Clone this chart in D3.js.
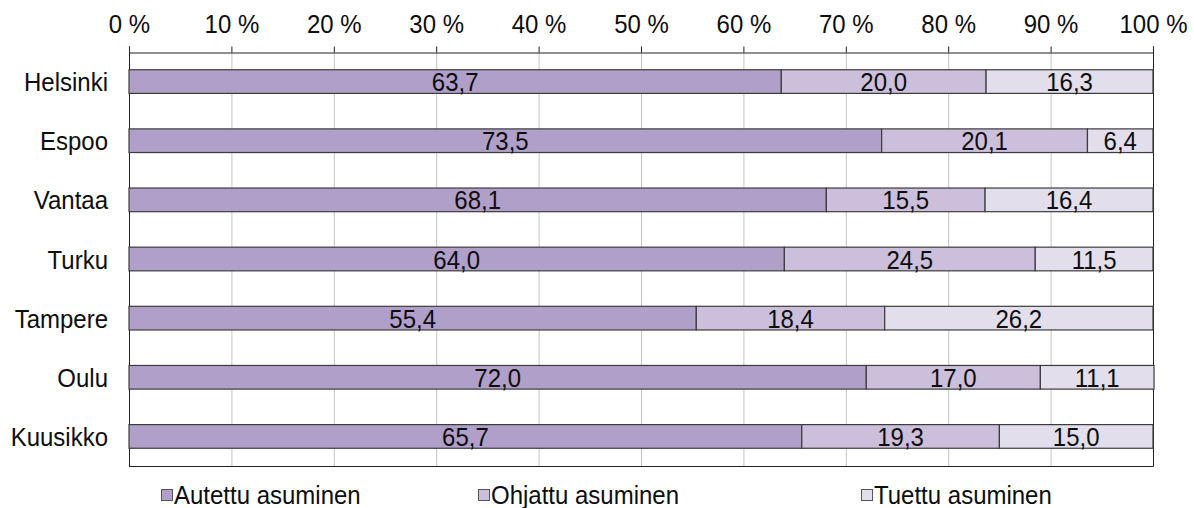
<!DOCTYPE html>
<html>
<head>
<meta charset="utf-8">
<script src="https://cdn.jsdelivr.net/npm/d3@7"></script>
<style>
	body { margin: 0; background: #fff; }
	text { font-family: "Liberation Sans", Arial, sans-serif; fill: #0d0d0d; }
	.grid line { stroke: #c4c4c4; stroke-width: 1; }
	.segment { stroke: #3c3c3c; stroke-width: 1.2; }
</style>
</head>
<body>
<svg id="chart" width="1194" height="508"></svg>
<script>
var cities = ["Helsinki", "Espoo", "Vantaa", "Turku", "Tampere", "Oulu", "Kuusikko"];
var seriesNames = ["Autettu asuminen", "Ohjattu asuminen", "Tuettu asuminen"];
var autettu = [63.7, 73.5, 68.1, 64.0, 55.4, 72.0, 65.7];
var ohjattu = [20.0, 20.1, 15.5, 24.5, 18.4, 17.0, 19.3];
var tuettu = [16.3, 6.4, 16.4, 11.5, 26.2, 11.1, 15.0];
var tickValues = [0, 10, 20, 30, 40, 50, 60, 70, 80, 90, 100];

(function () {
	var svg, x, y, color, rows, stack, layers, plot, legendX, stretch;

	svg = d3.select("#chart");
	plot = { left: 129, right: 1153, top: 52, bottom: 466 };
	stretch = " scale(1,1.08)";
	color = d3.scaleOrdinal().domain(seriesNames).range(["#b09fc8", "#cbbfdb", "#e2deec"]);

	x = d3.scaleLinear().domain([0, 100]).range([plot.left, plot.right]);
	y = d3.scaleBand().domain(cities).range([plot.top, plot.bottom]).paddingInner(0.6).paddingOuter(0.3);

	rows = cities.map(function (c, i) {
		var r = { city: c };
		r[seriesNames[0]] = autettu[i];
		r[seriesNames[1]] = ohjattu[i];
		r[seriesNames[2]] = tuettu[i];
		return r;
	});
	stack = d3.stack().keys(seriesNames);
	layers = stack(rows);

	//GRIDLINES
	svg.append("g")
		.attr("class", "grid")
		.selectAll("line")
		.data(tickValues.slice(1, -1)).enter()
		.append("line")
		.attr("x1", function (d) { return x(d) + 0.5 })
		.attr("x2", function (d) { return x(d) + 0.5 })
		.attr("y1", plot.top)
		.attr("y2", plot.bottom)

	//TOP AXIS
	var axis = svg.append("g")
		.attr("transform", "translate(0," + (plot.top + 0.5) + ")")
		.call(d3.axisTop(x).tickValues(tickValues).tickSize(6).tickFormat(function (d) { return d + " %" }));
	axis.select(".domain").attr("stroke", "#222");
	axis.selectAll(".tick line").attr("stroke", "#222");
	axis.selectAll(".tick text")
		.attr("y", 0)
		.attr("dy", 0)
		.attr("transform", "translate(0,-20)" + stretch)
		.style("font-size", "24px")
		.style("font-family", "'Liberation Sans', Arial, sans-serif")
		.attr("fill", "#0d0d0d");

	//FRAME
	svg.append("line")
		.attr("x1", plot.left + 0.5).attr("x2", plot.left + 0.5)
		.attr("y1", plot.top).attr("y2", plot.bottom + 0.5)
		.attr("stroke", "#222");
	svg.append("line")
		.attr("x1", plot.right + 0.5).attr("x2", plot.right + 0.5)
		.attr("y1", plot.top).attr("y2", plot.bottom + 0.5)
		.attr("stroke", "#222");
	svg.append("line")
		.attr("x1", plot.left).attr("x2", plot.right + 0.5)
		.attr("y1", plot.bottom + 0.5).attr("y2", plot.bottom + 0.5)
		.attr("stroke", "#222");

	//BARS
	var groups = svg.selectAll("g.layer")
		.data(layers).enter().append("g")
		.attr("class", "layer")
		.attr("fill", function (d) { return color(d.key) });

	groups.selectAll("rect")
		.data(function (d) { return d }).enter()
		.append("rect")
		.attr("class", "segment")
		.attr("x", function (d) { return x(d[0]) })
		.attr("y", function (d) { return y(d.data.city) })
		.attr("width", function (d) { return x(d[1]) - x(d[0]) })
		.attr("height", y.bandwidth())

	//VALUE LABELS
	groups.selectAll("text")
		.data(function (d) { return d }).enter()
		.append("text")
		.text(function (d) { return (d[1] - d[0]).toFixed(1).replace(".", ",") })
		.attr("transform", function (d) {
			return "translate(" + (x(d[0]) + x(d[1])) / 2 + "," + (y(d.data.city) + y.bandwidth() / 2 + 9.5) + ")" + stretch
		})
		.attr("text-anchor", "middle")
		.style("font-size", "24px")

	//CATEGORY LABELS
	svg.selectAll("text.city")
		.data(cities).enter()
		.append("text")
		.attr("class", "city")
		.text(function (d) { return d })
		.attr("transform", function (d) {
			return "translate(108," + (y(d) + y.bandwidth() / 2 + 9.5) + ")" + stretch
		})
		.attr("text-anchor", "end")
		.style("font-size", "24px")

	//LEGEND
	legendX = [161, 478, 861];
	var legend = svg.selectAll("g.legend")
		.data(seriesNames).enter().append("g")
		.attr("class", "legend")
		.attr("transform", function (d, i) { return "translate(" + legendX[i] + ",489)" });

	legend.append("rect")
		.attr("x", 0.5)
		.attr("y", 0.5)
		.attr("width", 11)
		.attr("height", 11)
		.attr("fill", function (d) { return color(d) })
		.attr("stroke", "#555")

	legend.append("text")
		.text(function (d) { return d })
		.attr("transform", "translate(13,15)" + stretch)
		.style("font-size", "24px")
})();
</script>
</body>
</html>
